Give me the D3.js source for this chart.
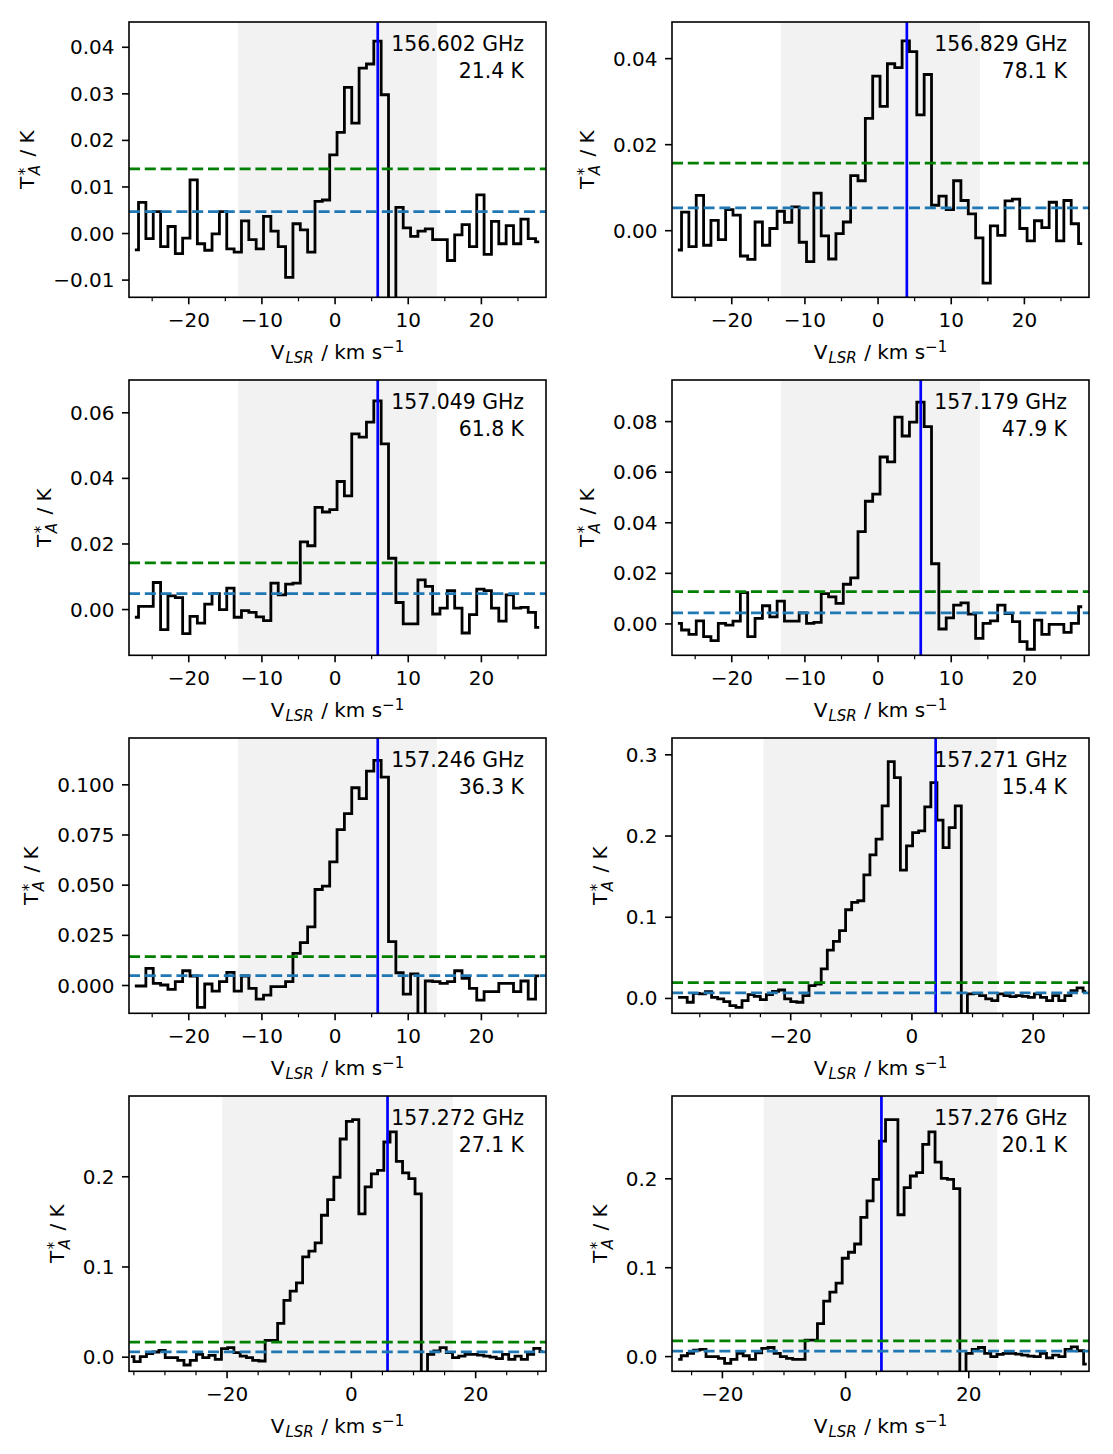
<!DOCTYPE html>
<html><head><meta charset="utf-8">
<script src="https://cdn.jsdelivr.net/npm/d3@7"></script>
<style>
body{margin:0;background:#fff}
text{font-family:"DejaVu Sans",sans-serif;fill:#000}
</style>
</head><body>
<svg id="c" width="1113" height="1454"></svg>
<script>
// ---------- data ----------
const freqLabels = ["156.602 GHz","156.829 GHz","157.049 GHz","157.179 GHz","157.246 GHz","157.271 GHz","157.272 GHz","157.276 GHz"];
const eupLabels  = ["21.4 K","78.1 K","61.8 K","47.9 K","36.3 K","15.4 K","27.1 K","20.1 K"];
const vlsr   = [5.9, 4.0, 5.9, 5.9, 5.9, 4.0, 5.9, 5.9];
const spanLo = [-13.2, -13.2, -13.2, -13.2, -13.2, -24.4, -20.7, -13.2];
const spanHi = [14.0, 14.0, 14.0, 14.0, 14.0, 14.1, 16.4, 24.7];
const rms    = [0.0046, 0.0052, 0.0047, 0.0042, 0.0047, 0.0063, 0.0054, 0.0057];
const v0     = [-27.3, -27.3, -27.3, -27.3, -27.3, -38.5, -35.4, -27.1];
const dv     = 1.005;
const xDomains = [[-28.1,28.9],[-28.1,28.9],[-28.1,28.9],[-28.1,28.9],[-28.1,28.9],[-39.5,29.3],[-35.7,31.4],[-28.1,39.6]];
const xMajorA = [-20,-10,0,10,20];
const xMinorA = [-25,-15,-5,5,15,25];
const xMajorB = [-20,0,20];
const xMinorB = [-35,-30,-25,-15,-10,-5,5,10,15,25,30,35];
const yTicks = [
  [-0.01,0,0.01,0.02,0.03,0.04],
  [0,0.02,0.04],
  [0,0.02,0.04,0.06],
  [0,0.02,0.04,0.06,0.08],
  [0,0.025,0.05,0.075,0.1],
  [0,0.1,0.2,0.3],
  [0,0.1,0.2],
  [0,0.1,0.2]
];
const yFormats = [".2f",".2f",".2f",".2f",".3f",".1f",".1f",".1f"];

const spec1 = [-0.0036,0.0066,-0.0012,0.0046,-0.0029,0.0014,-0.0044,-0.0011,0.0114,-0.0023,-0.0037,-0.0002,0.0046,-0.0034,-0.0041,0.0026,-0.0014,-0.0034,0.0036,0.0004,-0.0029,-0.0095,0.0020,0.0007,-0.0041,0.0068,0.0071,0.0168,0.0216,0.0313,0.0236,0.0354,0.0363,0.0412,0.0297,-0.0300,0.0055,0.0011,-0.0007,0.0004,0.0009,-0.0014,-0.0014,-0.0059,-0.0004,0.0018,-0.0029,0.0082,-0.0046,0.0025,-0.0023,0.0016,-0.0023,0.0030,-0.0012,-0.0019];
const spec2 = [-0.0046,0.0042,-0.0038,0.0081,-0.0035,0.0023,-0.0022,0.0048,0.0035,-0.0060,-0.0068,0.0019,-0.0035,0.0004,0.0044,0.0018,0.0054,-0.0028,-0.0073,0.0086,-0.0013,-0.0067,-0.0008,0.0019,0.0127,0.0115,0.0260,0.0358,0.0288,0.0387,0.0378,0.0440,0.0415,0.0268,0.0362,0.0058,0.0079,0.0048,0.0115,0.0069,0.0038,-0.0018,-0.0123,0.0010,-0.0012,0.0068,0.0072,0.0004,-0.0025,0.0022,0.0006,0.0065,-0.0025,0.0069,0.0015,-0.0031];
const spec3 = [-0.0025,0.0008,0.0008,0.0081,-0.0063,0.0040,0.0035,-0.0075,-0.0022,-0.0043,0.0015,0.0047,-0.0002,0.0064,-0.0025,-0.0005,-0.0010,-0.0024,-0.0035,0.0079,0.0043,0.0076,0.0079,0.0205,0.0193,0.0310,0.0296,0.0303,0.0389,0.0345,0.0534,0.0524,0.0570,0.0635,0.0504,0.0155,0.0020,-0.0045,-0.0045,0.0089,0.0069,-0.0015,0.0003,0.0056,0.0003,-0.0073,-0.0017,0.0061,0.0056,0.0003,-0.0037,0.0043,0.0003,0.0005,-0.0010,-0.0056];
const spec4 = [0.0000,-0.0026,-0.0043,0.0010,-0.0052,-0.0068,0.0000,-0.0007,0.0009,0.0122,-0.0052,0.0020,0.0070,0.0026,0.0088,0.0009,0.0009,0.0042,0.0000,0.0004,0.0118,0.0105,0.0079,0.0155,0.0180,0.0363,0.0483,0.0511,0.0658,0.0639,0.0816,0.0741,0.0796,0.0875,0.0778,0.0236,-0.0022,0.0022,0.0072,0.0081,0.0037,-0.0059,0.0000,0.0010,0.0072,0.0039,0.0007,-0.0072,-0.0102,0.0013,-0.0043,-0.0004,-0.0004,-0.0035,0.0000,0.0066];
const spec5 = [-0.0005,-0.0005,0.0083,0.0008,0.0000,-0.0022,0.0017,0.0071,0.0045,-0.0111,0.0005,-0.0030,0.0017,0.0063,-0.0030,0.0045,-0.0017,-0.0070,-0.0050,-0.0008,-0.0008,0.0017,0.0158,0.0211,0.0290,0.0476,0.0493,0.0614,0.0774,0.0854,0.0983,0.0929,0.1066,0.1119,0.1036,0.0216,0.0061,-0.0045,0.0055,-0.0200,0.0020,0.0017,0.0008,0.0017,0.0071,0.0033,-0.0017,-0.0075,-0.0033,-0.0033,0.0008,0.0008,-0.0033,0.0020,-0.0070,0.0046];
const spec6 = [0.0008,0.0008,-0.0053,0.0057,0.0049,0.0078,0.0008,-0.0012,-0.0045,-0.0094,-0.0115,-0.0033,0.0041,0.0020,-0.0020,0.0041,0.0082,0.0098,-0.0012,-0.0045,-0.0053,0.0029,0.0152,0.0172,0.0357,0.0590,0.0697,0.0828,0.1086,0.1176,0.1197,0.1516,0.1762,0.1955,0.2365,0.2910,0.2713,0.1574,0.1873,0.2037,0.2057,0.2352,0.2652,0.2189,0.1852,0.2098,0.2365,-0.0500,0.0049,0.0057,0.0029,-0.0012,-0.0033,0.0049,0.0029,0.0016,0.0029,0.0020,0.0008,0.0049,0.0008,-0.0033,0.0029,-0.0033,0.0029,0.0090,0.0123,0.0082];
const spec7 = [0.0000,-0.0055,0.0000,0.0033,0.0052,0.0070,-0.0011,-0.0011,-0.0041,-0.0092,-0.0041,0.0026,-0.0011,0.0015,-0.0030,0.0089,0.0100,0.0044,0.0007,-0.0011,-0.0041,-0.0048,0.0181,0.0181,0.0369,0.0624,0.0727,0.0819,0.1107,0.1170,0.1262,0.1568,0.1742,0.1989,0.2413,0.2609,0.2627,0.1583,0.1882,0.2026,0.2066,0.2380,0.2491,0.2166,0.2037,0.1974,0.1804,-0.0500,0.0026,0.0063,0.0100,0.0044,-0.0011,0.0007,0.0026,0.0026,0.0018,0.0007,-0.0004,-0.0022,0.0026,-0.0030,0.0007,-0.0030,0.0026,0.0092,0.0055];
const spec8 = [-0.0037,0.0004,0.0030,0.0067,0.0075,-0.0007,-0.0007,-0.0026,-0.0082,-0.0037,0.0030,0.0004,-0.0037,0.0037,0.0086,0.0097,0.0030,-0.0007,-0.0026,-0.0037,-0.0037,0.0179,0.0179,0.0366,0.0619,0.0720,0.0821,0.1101,0.1168,0.1261,0.1560,0.1746,0.1989,0.2418,0.2660,0.2660,0.1590,0.1896,0.2026,0.2063,0.2381,0.2522,0.2183,0.2000,0.1989,0.1884,-0.0500,0.0030,0.0075,0.0097,0.0030,-0.0007,0.0019,0.0030,0.0030,0.0022,0.0011,0.0000,-0.0007,0.0030,-0.0019,0.0011,-0.0007,0.0075,0.0104,0.0060,-0.0090];
const spectra = [spec1,spec2,spec3,spec4,spec5,spec6,spec7,spec8];

// ---------- layout ----------
const W = 417, H = 275.3;
const colX = [129, 672];
const rowY = [22, 380, 738, 1096];
const FS = 20, FSS = 15;
const svg = d3.select("#c");

spectra.forEach((vals, k) => {
  const left = colX[k % 2], top = rowY[Math.floor(k / 2)];
  const g = svg.append("g").attr("transform", `translate(${left},${top})`);
  const x = d3.scaleLinear().domain(xDomains[k]).range([0, W]);
  const y = d3.scaleLinear().domain([-3 * rms[k], 1.1 * d3.max(vals)]).range([H, 0]);

  const cid = "clip" + k;
  g.append("clipPath").attr("id", cid).append("rect").attr("width", W).attr("height", H);
  const plot = g.append("g").attr("clip-path", `url(#${cid})`);

  plot.append("rect")
    .attr("x", x(spanLo[k])).attr("y", 0)
    .attr("width", x(spanHi[k]) - x(spanLo[k])).attr("height", H)
    .attr("fill", "#f2f2f2");

  const pts = vals.map((v, i) => [v0[k] + i * dv, v]);
  const line = d3.line().x(d => x(d[0])).y(d => y(d[1])).curve(d3.curveStep);
  plot.append("path").datum(pts).attr("d", line)
    .attr("fill", "none").attr("stroke", "#000").attr("stroke-width", 2.8)
    .attr("stroke-linejoin", "miter");

  plot.append("line")
    .attr("x1", x(vlsr[k])).attr("x2", x(vlsr[k])).attr("y1", 0).attr("y2", H)
    .attr("stroke", "#0000ff").attr("stroke-width", 2.7);

  plot.append("line")
    .attr("x1", 0).attr("x2", W).attr("y1", y(3 * rms[k])).attr("y2", y(3 * rms[k]))
    .attr("stroke", "#008000").attr("stroke-width", 2.7).attr("stroke-dasharray", "11,4.8");
  plot.append("line")
    .attr("x1", 0).attr("x2", W).attr("y1", y(rms[k])).attr("y2", y(rms[k]))
    .attr("stroke", "#1f77b4").attr("stroke-width", 2.7).attr("stroke-dasharray", "11,4.8");

  // axes
  const wide = k >= 5;
  const xa = g.append("g").attr("transform", `translate(0,${H})`)
    .call(d3.axisBottom(x).tickValues(wide ? xMajorB : xMajorA).tickSize(7).tickPadding(8.8).tickFormat(d3.format("d")));
  const xm = g.append("g").attr("transform", `translate(0,${H})`)
    .call(d3.axisBottom(x).tickValues((wide ? xMinorB : xMinorA).filter(v => v >= xDomains[k][0] && v <= xDomains[k][1])).tickSize(4).tickFormat(""));
  const ya = g.append("g")
    .call(d3.axisLeft(y).tickValues(yTicks[k]).tickSize(7).tickPadding(7.5).tickFormat(d3.format(yFormats[k])));

  [xa, xm, ya].forEach(a => {
    a.attr("font-size", null).attr("font-family", null);
    a.select(".domain").remove();
    a.selectAll("text").style("font-size", FS + "px");
    a.selectAll("line").attr("stroke", "#000").attr("stroke-width", 1.6);
  });
  xm.selectAll("line").attr("stroke-width", 1.2);
  ya.selectAll("text").attr("dy", "0.35em");

  g.append("rect").attr("width", W).attr("height", H)
    .attr("fill", "none").attr("stroke", "#000").attr("stroke-width", 1.6);

  // annotations
  g.append("text").attr("x", W - 22).attr("y", 28.7).attr("text-anchor", "end")
    .style("font-size", "20.4px").text(freqLabels[k]);
  g.append("text").attr("x", W - 22).attr("y", 56).attr("text-anchor", "end")
    .style("font-size", "20.4px").text(eupLabels[k]);

  // x label
  const xl = g.append("text").attr("x", W / 2).attr("y", H + 62)
    .attr("text-anchor", "middle").style("font-size", FS + "px");
  xl.append("tspan").text("V");
  xl.append("tspan").attr("dx", 1).attr("dy", 4).style("font-size", FSS + "px").style("font-style", "italic").text("LSR");
  xl.append("tspan").attr("dx", 1).attr("dy", -4).text(" / km s");
  xl.append("tspan").attr("dy", -7).style("font-size", FSS + "px").text("\u22121");

  // y label
  const bb = ya.node().getBBox();
  const lx = bb.x - 19;
  const yl = g.append("text")
    .attr("transform", `translate(${lx},${H / 2}) rotate(-90)`)
    .attr("text-anchor", "middle").style("font-size", FS + "px");
  yl.append("tspan").text("T");
  yl.append("tspan").attr("dx", 1.5).attr("dy", -4.5).style("font-size", FSS + "px").text("*");
  yl.append("tspan").attr("dx", -7.5).attr("dy", 10.5).style("font-size", FSS + "px").style("font-style", "italic").text("A");
  yl.append("tspan").attr("dx", 2).attr("dy", -6).text(" / K");
});
</script>
</body></html>
